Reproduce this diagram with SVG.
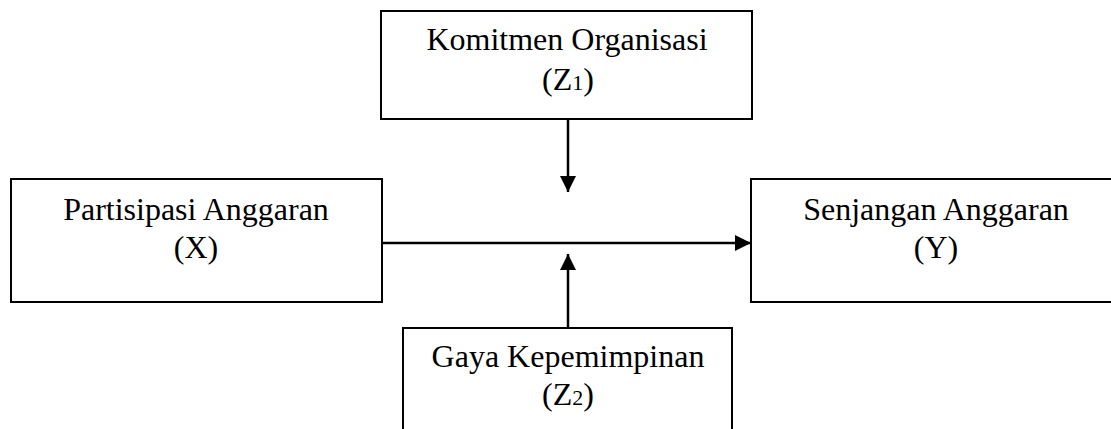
<svg xmlns="http://www.w3.org/2000/svg" width="1111" height="429" viewBox="0 0 1111 429">
<style>
.box{fill:#fff;stroke:#000;stroke-width:2}
.t{font-family:"Liberation Serif","Times New Roman",serif;font-size:32px;fill:#000;text-anchor:middle}
.s{font-size:22px}
.c{stroke:#000;stroke-width:2.5;fill:none}
</style>
<defs>
<marker id="ah" viewBox="0 0 16 16" refX="16" refY="8" markerWidth="16" markerHeight="16" markerUnits="userSpaceOnUse" orient="auto">
<path d="M0,0 L16,8 L0,16 Z" fill="#000"/>
</marker>
</defs>
<rect width="1111" height="429" fill="#fff"/>
<g id="connectors">
<line class="c" x1="568" y1="119" x2="568" y2="192" marker-end="url(#ah)"/>
<line class="c" x1="382" y1="243" x2="751" y2="243" marker-end="url(#ah)"/>
<line class="c" x1="568" y1="328" x2="568" y2="254" marker-end="url(#ah)"/>
</g>
<g id="node-z1">
<rect class="box" x="381" y="11" width="371" height="108"/>
<text class="t" x="567" y="50">Komitmen Organisasi</text>
<text class="t" x="568" y="90">(Z<tspan class="s">1</tspan>)</text>
</g>
<g id="node-x">
<rect class="box" x="11" y="179" width="371" height="123"/>
<text class="t" x="196" y="220">Partisipasi Anggaran</text>
<text class="t" x="196" y="258">(X)</text>
</g>
<g id="node-y">
<rect class="box" x="751" y="179" width="372" height="123"/>
<text class="t" x="936" y="220">Senjangan Anggaran</text>
<text class="t" x="936" y="258">(Y)</text>
</g>
<g id="node-z2">
<rect class="box" x="403" y="328" width="329" height="130"/>
<text class="t" x="568" y="367">Gaya Kepemimpinan</text>
<text class="t" x="568" y="405">(Z<tspan class="s">2</tspan>)</text>
</g>
</svg>
